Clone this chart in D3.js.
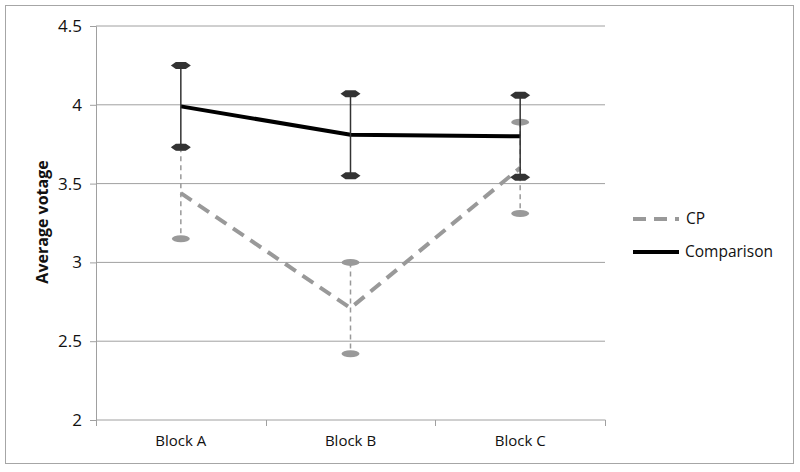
<!DOCTYPE html>
<html>
<head>
    <script src="https://d3js.org/d3.v7.min.js"></script>
    <style>
        body {margin: 0; background: white; font-family: "Open Sans", "Noto Sans", Arial, sans-serif;}
    </style>
</head>
<body>
    <svg width="800" height="472"></svg>
    <script>
        // Data
        let blocks = ["Block A", "Block B", "Block C"];
        let cpMean = [3.44, 2.71, 3.60];
        let cpHigh = [3.73, 3.00, 3.89];
        let cpLow = [3.15, 2.42, 3.31];
        let compMean = [3.99, 3.81, 3.80];
        let compHigh = [4.25, 4.07, 4.06];
        let compLow = [3.73, 3.55, 3.54];
        let yTicks = [2, 2.5, 3, 3.5, 4, 4.5];

        let svg = d3.select("svg");

        // outer frame
        svg.append("rect")
            .attr("x", 5.5).attr("y", 5.5)
            .attr("width", 788).attr("height", 458)
            .attr("fill", "white").attr("stroke", "#a6a6a6").attr("stroke-width", 1);

        let x = d3.scaleBand().domain(blocks).range([96, 605]);
        let y = d3.scaleLinear().domain([2, 4.5]).range([420, 26]);
        let cx = d => x(d) + x.bandwidth() / 2;

        // gridlines
        svg.append("g").selectAll("line")
            .data(yTicks.slice(1))
            .enter().append("line")
            .attr("x1", 96).attr("x2", 605)
            .attr("y1", d => y(d)).attr("y2", d => y(d))
            .attr("stroke", "#a0a0a0").attr("stroke-width", 1);

        // y axis
        let yAxis = svg.append("g")
            .attr("transform", "translate(96,0)")
            .call(d3.axisLeft(y).tickValues(yTicks).tickFormat(d3.format("")).tickSize(6).tickPadding(8));
        yAxis.select(".domain").attr("stroke", "#a0a0a0");
        yAxis.selectAll(".tick line").attr("stroke", "#a0a0a0");
        yAxis.selectAll("text").attr("font-size", 17).attr("fill", "#111")
            .attr("font-family", "'Open Sans', sans-serif");

        // x axis
        let xAxis = svg.append("g")
            .attr("transform", "translate(0,420)")
            .call(d3.axisBottom(x).tickSize(0).tickPadding(15));
        xAxis.select(".domain").attr("stroke", "#a0a0a0").attr("d", "M96.5,0H605.5");
        xAxis.selectAll("text").attr("font-size", 15).attr("fill", "#111")
            .attr("font-family", "'Open Sans', sans-serif");
        svg.append("g").selectAll("line")
            .data([96, 96 + x.bandwidth(), 96 + 2 * x.bandwidth(), 605])
            .enter().append("line")
            .attr("x1", d => Math.round(d) + 0.5).attr("x2", d => Math.round(d) + 0.5)
            .attr("y1", 420).attr("y2", 426)
            .attr("stroke", "#a0a0a0");

        // y title
        svg.append("text")
            .attr("transform", "translate(48,222) rotate(-90)")
            .attr("text-anchor", "middle")
            .attr("font-size", 16).attr("font-weight", "bold").attr("fill", "#111")
            .attr("font-family", "'Open Sans', sans-serif")
            .text("Average votage");

        let line = d3.line().x(d => cx(d.b)).y(d => y(d.v));
        let cpPts = blocks.map((b, i) => ({b: b, v: cpMean[i]}));
        let compPts = blocks.map((b, i) => ({b: b, v: compMean[i]}));

        // CP series
        svg.append("path").datum(cpPts)
            .attr("d", line).attr("fill", "none")
            .attr("stroke", "#999").attr("stroke-width", 4).attr("stroke-dasharray", "13,8");
        let cpErr = svg.append("g");
        blocks.forEach((b, i) => {
            cpErr.append("line")
                .attr("x1", cx(b)).attr("x2", cx(b))
                .attr("y1", y(cpHigh[i])).attr("y2", y(cpLow[i]))
                .attr("stroke", "#999").attr("stroke-width", 1.5).attr("stroke-dasharray", "5,4");
            [cpHigh[i], cpLow[i]].forEach(v => {
                cpErr.append("ellipse")
                    .attr("cx", cx(b)).attr("cy", y(v))
                    .attr("rx", 9).attr("ry", 3.5)
                    .attr("fill", "#999");
            });
        });

        // Comparison series
        svg.append("path").datum(compPts)
            .attr("d", line).attr("fill", "none")
            .attr("stroke", "#000").attr("stroke-width", 4);
        let compErr = svg.append("g");
        blocks.forEach((b, i) => {
            compErr.append("line")
                .attr("x1", cx(b)).attr("x2", cx(b))
                .attr("y1", y(compHigh[i])).attr("y2", y(compLow[i]))
                .attr("stroke", "#333").attr("stroke-width", 1.5);
            [compHigh[i], compLow[i]].forEach(v => {
                let px = cx(b), py = y(v);
                compErr.append("path")
                    .attr("d", `M${px - 10},${py} L${px - 5},${py - 3.5} L${px + 5},${py - 3.5} L${px + 10},${py} L${px + 5},${py + 3.5} L${px - 5},${py + 3.5} Z`)
                    .attr("fill", "#333");
            });
        });

        // legend
        let legend = svg.append("g");
        legend.append("line")
            .attr("x1", 633).attr("x2", 679).attr("y1", 219).attr("y2", 219)
            .attr("stroke", "#999").attr("stroke-width", 4).attr("stroke-dasharray", "13,8");
        legend.append("text").attr("x", 686).attr("y", 224)
            .attr("font-size", 15.5).attr("fill", "#111").text("CP");
        legend.append("line")
            .attr("x1", 633).attr("x2", 679).attr("y1", 252).attr("y2", 252)
            .attr("stroke", "#000").attr("stroke-width", 4);
        legend.append("text").attr("x", 685).attr("y", 257)
            .attr("font-size", 15.5).attr("fill", "#111").text("Comparison");
    </script>
</body>
</html>
